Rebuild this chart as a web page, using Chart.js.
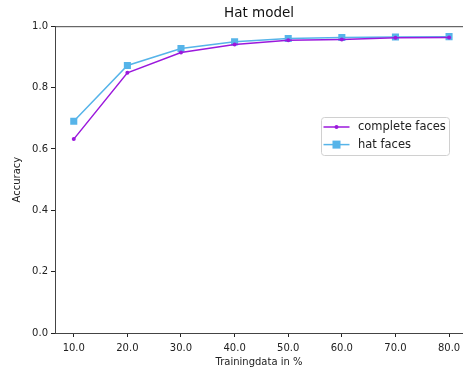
<!DOCTYPE html>
<html>
<head>
<meta charset="utf-8">
<script src="https://cdn.jsdelivr.net/npm/chart.js@4/dist/chart.umd.min.js"></script>
<style>
  html, body { margin: 0; padding: 0; background: #fff; }
  #wrap { width: 463px; height: 372px; }
</style>
</head>
<body>
<div id="wrap"><canvas id="accChart" width="463" height="372"></canvas></div>
<script>
const trainingPercent = [10, 20, 30, 40, 50, 60, 70, 80];
const completeFaces = [0.632, 0.848, 0.914, 0.940, 0.954, 0.957, 0.962, 0.963];
const hatFaces = [0.690, 0.872, 0.927, 0.949, 0.960, 0.963, 0.965, 0.966];
const yTicks = [0.0, 0.2, 0.4, 0.6, 0.8, 1.0];

const FONT = 'DejaVu Sans';
const purple = '#9b19dc';
const skyBlue = '#56b4e9';

// legend box drawn inside the plot, plus the top spine
const frameAndLegend = {
    id: 'frameAndLegend',
    afterDraw(chart) {
        const ctx = chart.ctx;
        const area = chart.chartArea;
        ctx.save();
        ctx.strokeStyle = '#444';
        ctx.lineWidth = 1;
        ctx.beginPath();
        ctx.moveTo(area.left, area.top + 0.5);
        ctx.lineTo(area.right, area.top + 0.5);
        ctx.stroke();

        const bx = 321.5, by = 117.5, bw = 128, bh = 38;
        ctx.fillStyle = 'rgba(255,255,255,0.8)';
        ctx.strokeStyle = '#d0d0d0';
        ctx.beginPath();
        ctx.roundRect(bx, by, bw, bh, 3);
        ctx.fill();
        ctx.stroke();

        ctx.font = '11.5px "' + FONT + '"';
        ctx.textBaseline = 'middle';
        chart.data.datasets.forEach((ds, i) => {
            const cy = by + 9.5 + i * 17.6;
            ctx.strokeStyle = ds.borderColor;
            ctx.lineWidth = 1.5;
            ctx.beginPath();
            ctx.moveTo(bx + 2, cy);
            ctx.lineTo(bx + 28, cy);
            ctx.stroke();
            ctx.fillStyle = ds.borderColor;
            if (ds.pointStyle === 'rect') {
                ctx.fillRect(bx + 15 - 4, cy - 4, 8, 8);
            } else {
                ctx.beginPath();
                ctx.arc(bx + 15, cy, 2, 0, Math.PI * 2);
                ctx.fill();
            }
            ctx.fillStyle = '#222';
            ctx.fillText(ds.label, bx + 36.5, cy + 0.5);
        });
        ctx.restore();
    }
};

new Chart(document.getElementById('accChart').getContext('2d'), {
    type: 'line',
    data: {
        datasets: [
            {
                label: 'complete faces',
                data: trainingPercent.map((x, i) => ({ x: x, y: completeFaces[i] })),
                borderColor: purple,
                backgroundColor: purple,
                borderWidth: 1.5,
                pointStyle: 'circle',
                pointRadius: 2,
                pointBorderWidth: 0,
                tension: 0
            },
            {
                label: 'hat faces',
                data: trainingPercent.map((x, i) => ({ x: x, y: hatFaces[i] })),
                borderColor: skyBlue,
                backgroundColor: skyBlue,
                borderWidth: 1.5,
                pointStyle: 'rect',
                pointRadius: 5,
                pointBorderWidth: 0,
                tension: 0
            }
        ]
    },
    options: {
        responsive: false,
        animation: false,
        devicePixelRatio: 1,
        layout: { autoPadding: false, padding: 0 },
        plugins: {
            legend: { display: false },
            tooltip: { enabled: false },
            title: {
                display: true,
                text: 'Hat model',
                fullSize: false,
                color: '#111',
                font: { family: FONT, size: 13.5, weight: 'normal' },
                padding: { top: 5, bottom: 5 }
            }
        },
        scales: {
            x: {
                type: 'linear',
                min: 6.5,
                max: 82.6,
                afterBuildTicks: axis => { axis.ticks = trainingPercent.map(v => ({ value: v })); },
                afterFit: axis => {
                    axis.height = 39;
                    axis.paddingLeft = 0;
                    axis.paddingRight = 0;
                },
                ticks: {
                    color: '#222',
                    font: { family: FONT, size: 10 },
                    padding: 5,
                    maxRotation: 0,
                    callback: v => v.toFixed(1)
                },
                grid: { drawOnChartArea: false, drawTicks: true, tickLength: 4, color: '#222' },
                border: { display: true, color: '#444', width: 1 },
                title: {
                    display: true,
                    text: 'Trainingdata in %',
                    color: '#222',
                    font: { family: FONT, size: 10 },
                    padding: { top: 2, bottom: 4 }
                }
            },
            y: {
                min: 0,
                max: 1,
                afterBuildTicks: axis => { axis.ticks = yTicks.map(v => ({ value: v })); },
                afterFit: axis => { axis.width = 55; },
                ticks: {
                    color: '#222',
                    font: { family: FONT, size: 10 },
                    padding: 3,
                    callback: v => v.toFixed(1)
                },
                grid: { drawOnChartArea: false, drawTicks: true, tickLength: 4, color: '#222' },
                border: { display: true, color: '#444', width: 1 },
                title: {
                    display: true,
                    text: 'Accuracy',
                    color: '#222',
                    font: { family: FONT, size: 10 },
                    padding: { top: 11, bottom: 4 }
                }
            }
        }
    },
    plugins: [frameAndLegend]
});
</script>
</body>
</html>
